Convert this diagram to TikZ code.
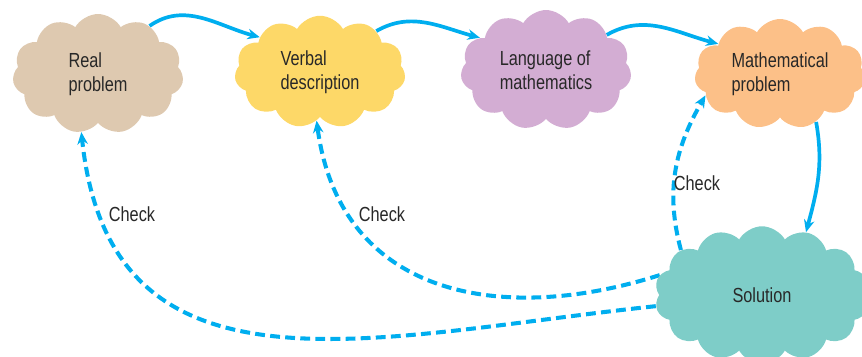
\documentclass[tikz,border=0pt]{standalone}
\usepackage{fontspec}
\setmainfont{Liberation Sans}[FakeStretch=0.8]
\usepackage{tikz}
\usetikzlibrary{arrows.meta,shapes.symbols,positioning,backgrounds}
\pgfdeclarelayer{edgelayer}
\pgfdeclarelayer{nodelayer}
\pgfsetlayers{background,edgelayer,nodelayer,main}
\definecolor{flowblue}{RGB}{0,174,239}
\definecolor{realtan}{RGB}{222,201,176}
\definecolor{verbyellow}{RGB}{253,216,104}
\definecolor{langlilac}{RGB}{211,173,211}
\definecolor{mathorange}{RGB}{252,192,136}
\definecolor{solteal}{RGB}{126,205,200}
\definecolor{inktext}{RGB}{40,40,40}
\tikzstyle{cloudbox}=[shape=cloud,cloud puffs=11,cloud puff arc=120,cloud ignores aspect,draw=none,align=left,text=inktext,font=\fontsize{11.6}{13.6}\selectfont,inner sep=0pt,minimum width=3.42cm,minimum height=2.4cm]
\tikzstyle{flow}=[draw=flowblue,line width=2.1pt,-{Stealth[length=7pt,width=6pt]}]
\tikzstyle{check}=[flow,line width=2.3pt,dash pattern=on 5.6pt off 3pt]
\tikzstyle{checklabel}=[inner sep=0pt,text=inktext,font=\fontsize{11.6}{13.6}\selectfont]

\begin{document}
\begin{tikzpicture}[x=0.02cm,y=0.02cm]
	\useasboundingbox (0,0) rectangle (862,356);
	\begin{pgfonlayer}{nodelayer}
		\node [style=cloudbox,fill=realtan] (real) at (98, 282) {Real\\problem};
		\node [style=cloudbox,fill=verbyellow,minimum height=2.25cm] (verbal) at (320, 284) {Verbal\\description};
		\node [style=cloudbox,fill=langlilac] (lang) at (546, 286) {Language of\\mathematics};
		\node [style=cloudbox,fill=mathorange,minimum height=2.2cm] (math) at (780, 282) {Mathematical\\problem};
		\node [style=cloudbox,fill=solteal,cloud puffs=14,minimum width=4.3cm,minimum height=2.75cm] (sol) at (762, 61) {Solution};
		\node [style=checklabel] (check1) at (132, 142) {Check};
		\node [style=checklabel] (check2) at (382, 142) {Check};
		\node [style=checklabel] (check3) at (697, 173) {Check};
	\end{pgfonlayer}
	\begin{pgfonlayer}{edgelayer}
		\draw [style=flow] (real.43) to [out=35, in=165] (verbal.150);
		\draw [style=flow] (verbal.36) to [out=30, in=165] (lang.154);
		\draw [style=flow] (lang.30) to [out=30, in=165] (math.154);
		\draw [style=flow] (math.-53) to [out=-80, in=75] (sol.55);
		\draw [style=check] (sol.151) to [out=105, in=240] (math.196);
		\draw [style=check] (sol.169) .. controls (500, 30) and (340, 60) .. (verbal.266);
		\draw [style=check] (sol.186) to [out=186, in=-84, looseness=1.2] (real.254);
	\end{pgfonlayer}
\end{tikzpicture}
\end{document}
